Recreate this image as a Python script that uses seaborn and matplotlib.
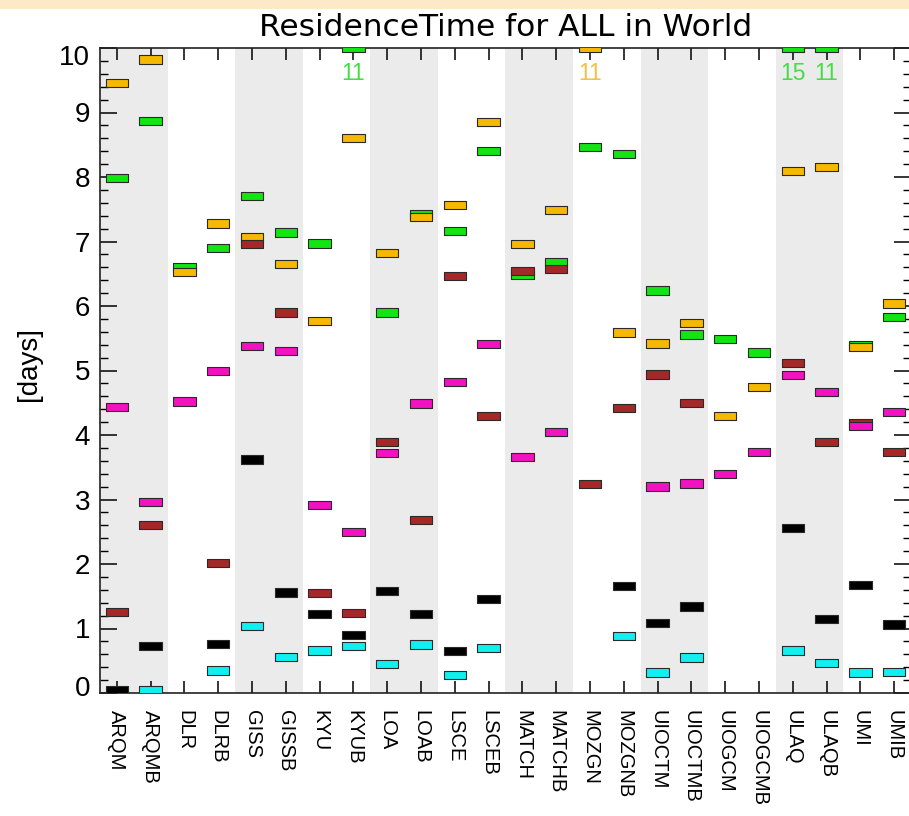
import numpy as np
import pandas as pd
import matplotlib
matplotlib.use("Agg")
import matplotlib.pyplot as plt
from matplotlib.path import Path
from matplotlib.patches import Rectangle
from matplotlib.transforms import ScaledTranslation
import seaborn as sns

nan = np.nan

models = ["ARQM", "ARQMB", "DLR", "DLRB", "GISS", "GISSB", "KYU", "KYUB",
          "LOA", "LOAB", "LSCE", "LSCEB", "MATCH", "MATCHB", "MOZGN", "MOZGNB",
          "UIOCTM", "UIOCTMB", "UIOGCM", "UIOGCMB", "ULAQ", "ULAQB", "UMI", "UMIB"]

green = [7.98, 8.87, 6.61, 6.90, 7.70, 7.14, 6.97, 11.0, 5.90, 7.42, 7.16, 8.40,
         6.48, 6.68, 8.46, 8.36, 6.24, 5.56, 5.49, 5.28, 15.0, 11.0, 5.39, 5.83]
orange = [9.46, 9.82, 6.53, 7.28, 7.06, 6.65, 5.77, 8.60, 6.82, 7.38, 7.57, 8.85,
          6.96, 7.49, 11.0, 5.59, 5.42, 5.74, 4.29, 4.74, 8.09, 8.15, 5.36, 6.04]
brown = [1.26, 2.61, nan, 2.01, 6.96, 5.90, 1.55, 1.24, 3.89, 2.68, 6.47, 4.29,
         6.54, 6.57, 3.24, 4.42, 4.94, 4.50, nan, nan, 5.12, 3.89, 4.18, 3.74]
magenta = [4.43, 2.96, 4.52, 4.99, 5.38, 5.30, 2.92, 2.50, 3.72, 4.49, 4.82, 5.41,
           3.66, 4.05, nan, nan, 3.20, 3.25, 3.39, 3.74, 4.93, 4.67, 4.14, 4.36]
black = [0.04, 0.73, nan, 0.76, 3.62, 1.56, 1.23, 0.90, 1.58, 1.22, 0.65, 1.46,
         nan, nan, nan, 1.66, 1.09, 1.34, nan, nan, 2.56, 1.15, 1.67, 1.06]
cyan = [nan, 0.05, nan, 0.35, 1.04, 0.56, 0.66, 0.73, 0.45, 0.75, 0.28, 0.70,
        nan, nan, nan, 0.88, 0.32, 0.55, nan, nan, 0.66, 0.47, 0.32, 0.33]

series = {"green": green, "orange": orange, "brown": brown,
          "magenta": magenta, "black": black, "cyan": cyan}
palette = {"green": "#12e612", "orange": "#f6b800", "brown": "#a52828",
           "magenta": "#f212c2", "black": "#000000", "cyan": "#10f0f0"}
label_colors = {"green": "#44dd44", "orange": "#f5c040"}

rows = []
for name, vals in series.items():
    for m, v in zip(models, vals):
        if not np.isnan(v):
            rows.append({"model": m, "species": name, "value": v,
                         "shown": min(v, 10.0)})
df = pd.DataFrame(rows)

YMAX = 10.0

sns.set_style("white")
plt.rcParams["font.family"] = ["Liberation Sans", "DejaVu Sans"]
for k in ("text.color", "axes.labelcolor", "xtick.color", "ytick.color"):
    plt.rcParams[k] = "black"

fig = plt.figure(figsize=(9.09, 8.16), dpi=100)
fig.patches.append(Rectangle((0, 1 - 9 / 816), 1, 9 / 816, transform=fig.transFigure,
                             facecolor="#fde8c8", edgecolor="none", zorder=-5))
ax = fig.add_axes([100 / 909, 1 - 693 / 816, 811 / 909, (693 - 48) / 816])

# shaded pairs
for start in range(0, len(models), 4):
    ax.axvspan(start - 0.5, start + 1.5, color="#ebebeb", zorder=0, lw=0)

rect = Path([(-1, -0.37), (1, -0.37), (1, 0.37), (-1, 0.37), (-1, -0.37)],
            [Path.MOVETO, Path.LINETO, Path.LINETO, Path.LINETO, Path.CLOSEPOLY])

sns.scatterplot(data=df, x="model", y="shown", hue="species", palette=palette,
                marker=rect, s=260, edgecolor="#2a2a2a", linewidth=0.8,
                legend=False, ax=ax, zorder=3)

for _, r in df[df["value"] > YMAX].iterrows():
    ax.annotate(f"{r['value']:.0f}", xy=(models.index(r["model"]), YMAX),
                xytext=(0, -18.5), textcoords="offset points", ha="center",
                va="center", fontsize=16.5, color=label_colors[r["species"]])

ax.set_xlim(-0.5, len(models) - 0.5)
ax.set_ylim(0, YMAX)
ax.set_xticks(range(len(models)))
ax.set_xticklabels(models, rotation=-90, fontsize=14.5)
ax.set_yticks(np.arange(0, 11, 1))
ax.set_yticks(np.arange(0, 10.01, 0.2), minor=True)
ax.tick_params(axis="y", which="major", direction="in", length=12, width=1.1,
               left=True, right=True, labelsize=20, pad=7)
ax.tick_params(axis="y", which="minor", direction="in", length=6, width=1.0,
               left=True, right=True)
ax.tick_params(axis="x", which="major", direction="in", length=8.5, width=1.1,
               bottom=True, top=True, pad=12)
for s in ax.spines.values():
    s.set_linewidth(1.2)
    s.set_color("#222222")

ax.set_xlabel("")
ax.set_ylabel("[days]", fontsize=20)
ax.yaxis.set_label_coords(-0.071, 0.51)
ax.set_title("ResidenceTime for ALL in World", fontsize=22.5,
             family=["DejaVu Sans"], pad=9)

# nudge the end labels inward like the original
ylabels = ax.get_yticklabels()
ylabels[0].set_transform(ylabels[0].get_transform()
                         + ScaledTranslation(0, 0.07, fig.dpi_scale_trans))
ylabels[-1].set_transform(ylabels[-1].get_transform()
                          + ScaledTranslation(0, -0.07, fig.dpi_scale_trans))

fig.savefig("out.png", dpi=100)
